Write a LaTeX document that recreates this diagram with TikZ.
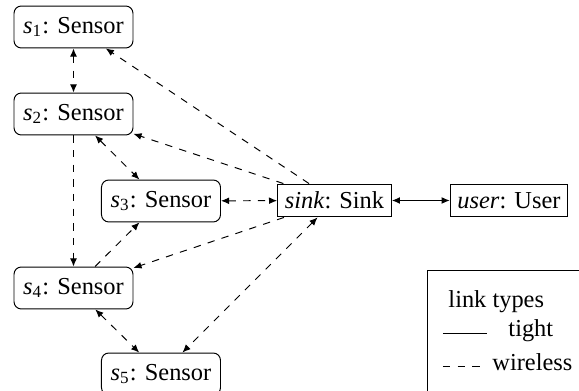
\documentclass[tikz,border=0pt]{standalone}
\usepackage{fontspec}
\setmainfont{Liberation Serif}
\usetikzlibrary{arrows.meta}

\newcommand{\sn}[1]{\textit{s}\textsubscript{#1}}

\begin{document}
\begin{tikzpicture}[
    x=0.41pt, y=-0.41pt,
    sensor/.style={draw, rounded corners=3pt, minimum width=48.8pt, minimum height=17.2pt, inner sep=2pt},
    box/.style={draw, minimum height=13.5pt, inner sep=3pt},
    wlink/.style={dashed, -{Latex[length=3.3pt,width=2.8pt]}},
    wlinkb/.style={dashed, {Latex[length=3.3pt,width=2.8pt]}-{Latex[length=3.3pt,width=2.8pt]}},
    tlink/.style={{Latex[length=3.3pt,width=2.8pt]}-{Latex[length=3.3pt,width=2.8pt]}},
    lbl/.style={anchor=base west, inner sep=0pt}
]
\useasboundingbox (0,0) rectangle (579,391);
\clip (0,0) rectangle (579,391);

\node[sensor] (s1) at (73.5, 27) {\sn{1}: Sensor};
\node[sensor] (s2) at (73.5, 114) {\sn{2}: Sensor};
\node[sensor] (s3) at (161, 201) {\sn{3}: Sensor};
\node[sensor] (s4) at (73.5, 288) {\sn{4}: Sensor};
\node[sensor] (s5) at (161, 374) {\sn{5}: Sensor};
\node[box] (sink) at (334.5, 200.5) {\textit{sink}: Sink};
\node[box] (user) at (509, 200.5) {\textit{user}: User};

% wireless links
\draw[wlinkb] (s1) -- (s2);
\draw[wlinkb] (s2) -- (s3);
\draw[wlinkb] (s3) -- (sink);
\draw[wlinkb] (s4) -- (s5);
\draw[wlinkb] (sink) -- (s5);
\draw[wlink] (sink) -- (s1);
\draw[wlink] (sink) -- (s2);
\draw[wlink] (sink) -- (s4);
\draw[wlink] (s2) -- (s4);
\draw[wlink] (s4) -- (s3);

% tight link
\draw[tlink] (sink) -- (user);

% legend
\draw (427, 270) rectangle (600, 410);
\node[lbl] (ltitle) at (448, 308) {link types};
\coordinate (t1) at (443, 333);
\coordinate (t2) at (487, 333);
\coordinate (w1) at (443, 366);
\coordinate (w2) at (485, 366);
\draw (t1) -- (t2);
\draw[dashed] (w1) -- (w2);
\node[lbl] (ltight) at (508, 337) {tight};
\node[lbl] (lwireless) at (492, 371) {wireless};

\end{tikzpicture}
\end{document}
